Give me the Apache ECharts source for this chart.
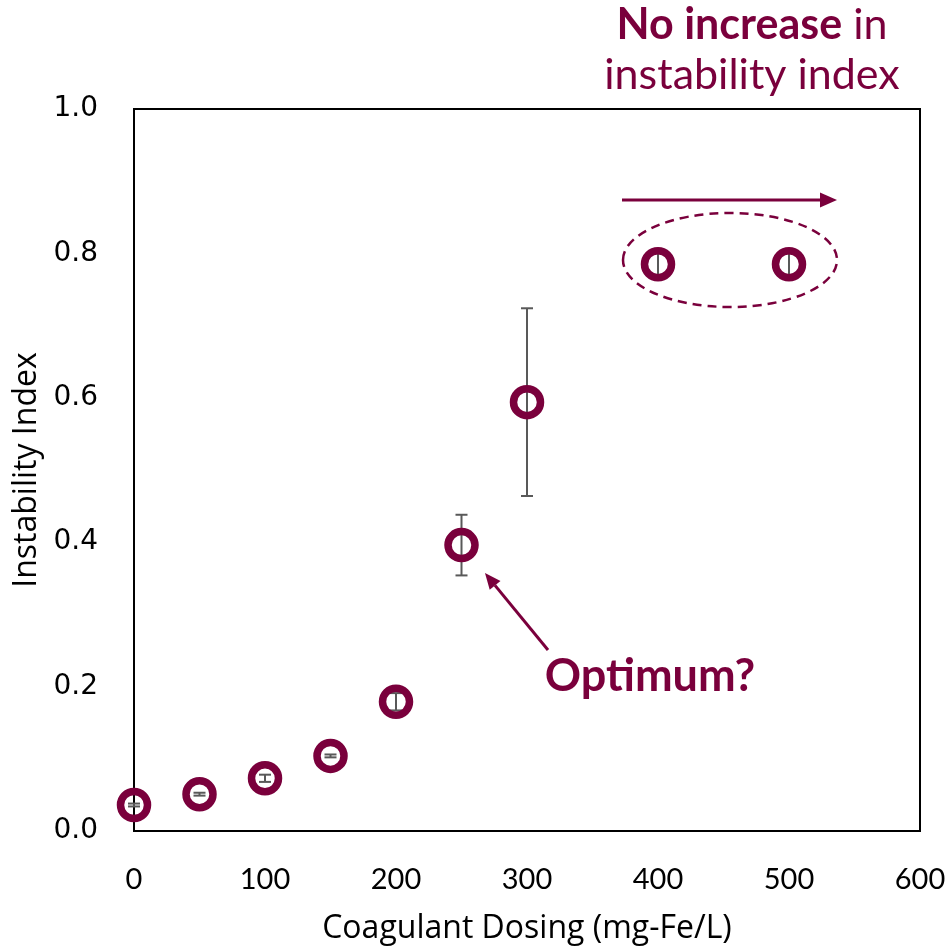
<!DOCTYPE html>
<html>
<head>
<meta charset="utf-8">
<script src="https://cdn.jsdelivr.net/npm/echarts@6/dist/echarts.min.js"></script>
<style>
  html, body { margin: 0; padding: 0; background: #fff; }
  #chart { width: 950px; height: 948px; }
</style>
</head>
<body>
<div id="chart"></div>
<script>
// Coagulant dose (mg-Fe/L) and measured instability index with +/- error
const doses = [0, 50, 100, 150, 200, 250, 300, 400, 500];
const instability = [0.036, 0.051, 0.073, 0.104, 0.179, 0.396, 0.594, 0.785, 0.785];
const errors = [0.002, 0.002, 0.005, 0.002, 0.012, 0.042, 0.130, 0.016, 0.016];

const MAROON = '#7a003c';
const GREY = '#595959';

const points = doses.map((d, i) => [d, instability[i]]);
const errorData = doses.map((d, i) => [d, instability[i] - errors[i], instability[i] + errors[i]]);

const chart = echarts.init(document.getElementById('chart'), null, { renderer: 'canvas' });

chart.setOption({
  animation: false,
  backgroundColor: '#fff',
  grid: {
    left: 134, right: 30, top: 109, bottom: 117,
    containLabel: false, outerBoundsMode: 'none',
    show: true, borderColor: '#000', borderWidth: 2, backgroundColor: 'transparent'
  },
  xAxis: {
    type: 'value', min: 0, max: 600, interval: 100,
    axisLine: { show: false }, axisTick: { show: false }, splitLine: { show: false },
    axisLabel: { color: '#000', fontSize: 29, fontFamily: 'Lato', margin: 34 },
    name: 'Coagulant Dosing (mg-Fe/L)', nameLocation: 'middle', nameGap: 82,
    nameTextStyle: { color: '#000', fontSize: 32, fontFamily: 'Open Sans' }
  },
  yAxis: {
    type: 'value', min: 0, max: 1, interval: 0.2,
    axisLine: { show: false }, axisTick: { show: false }, splitLine: { show: false },
    axisLabel: {
      color: '#000', fontSize: 28, fontFamily: 'DejaVu Sans', margin: 36,
      formatter: v => v.toFixed(1)
    },
    name: 'Instability Index', nameLocation: 'middle', nameGap: 80,
    nameTextStyle: { color: '#000', fontSize: 32, fontFamily: 'Open Sans' }
  },
  series: [
    {
      type: 'custom',
      name: 'error',
      z: 2,
      data: errorData,
      renderItem: function (params, api) {
        const x = api.value(0);
        const lo = api.coord([x, api.value(1)]);
        const hi = api.coord([x, api.value(2)]);
        const cap = 6;
        const style = { stroke: GREY, lineWidth: 2 };
        return {
          type: 'group',
          children: [
            { type: 'line', shape: { x1: lo[0], y1: lo[1], x2: hi[0], y2: hi[1] }, style },
            { type: 'line', shape: { x1: lo[0] - cap, y1: lo[1], x2: lo[0] + cap, y2: lo[1] }, style },
            { type: 'line', shape: { x1: hi[0] - cap, y1: hi[1], x2: hi[0] + cap, y2: hi[1] }, style }
          ]
        };
      }
    },
    {
      type: 'scatter',
      name: 'Instability Index',
      z: 3,
      clip: false,
      data: points,
      symbol: 'circle',
      symbolSize: 27,
      itemStyle: { color: 'rgba(255,255,255,0)', borderColor: MAROON, borderWidth: 7.5, opacity: 1 },
      emphasis: { disabled: true }
    }
  ],
  graphic: [
    // headline annotation
    {
      type: 'text', x: 752, y: 25,
      style: {
        text: '{b|No increase} in', fill: MAROON, font: '43px Lato',
        textAlign: 'center', textVerticalAlign: 'middle',
        rich: { b: { fontWeight: 'bold', fontSize: 43, fontFamily: 'Lato', fill: MAROON } }
      }
    },
    {
      type: 'text', x: 752, y: 75,
      style: { text: 'instability index', fill: MAROON, font: '43px Lato', textAlign: 'center', textVerticalAlign: 'middle' }
    },
    // arrow showing the plateau direction
    {
      type: 'line', shape: { x1: 622, y1: 200, x2: 822, y2: 200 },
      style: { stroke: MAROON, lineWidth: 3 }
    },
    {
      type: 'polygon', shape: { points: [[837, 200], [820, 192.5], [820, 207.5]] },
      style: { fill: MAROON }
    },
    // dashed ellipse around the plateau points
    {
      type: 'ellipse', shape: { cx: 730, cy: 260, rx: 107, ry: 47 },
      style: { fill: 'none', stroke: MAROON, lineWidth: 2.5, lineDash: [9, 6] }
    },
    // optimum callout
    {
      type: 'line', shape: { x1: 548, y1: 650, x2: 495, y2: 585.4 },
      style: { stroke: MAROON, lineWidth: 3 }
    },
    {
      type: 'polygon', shape: { points: [[485, 573], [500.5, 581], [489.7, 589.8]] },
      style: { fill: MAROON }
    },
    {
      type: 'text', x: 650, y: 676,
      style: { text: 'Optimum?', fill: MAROON, font: 'bold 45px Lato', textAlign: 'center', textVerticalAlign: 'middle' }
    }
  ]
});
</script>
</body>
</html>
